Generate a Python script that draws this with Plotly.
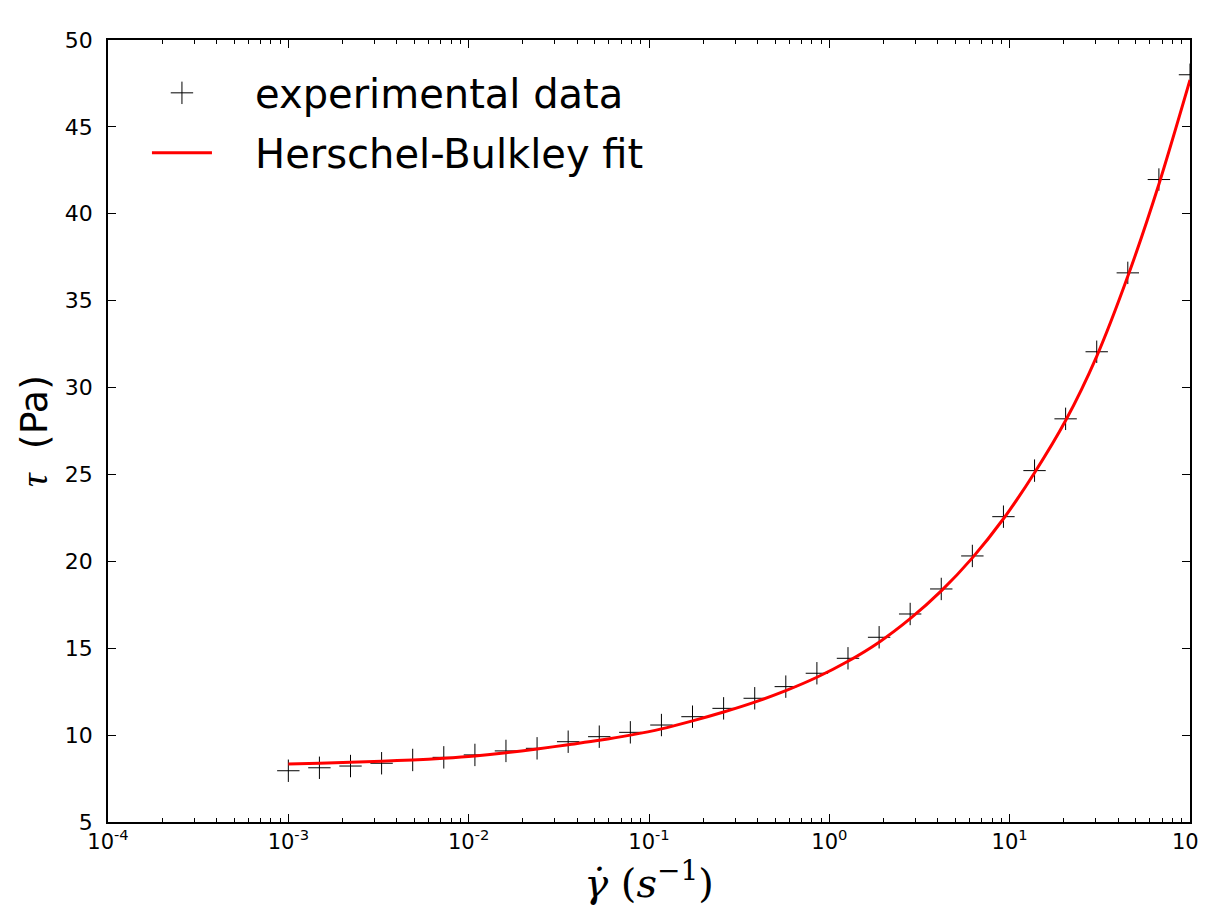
import plotly.graph_objects as go

# shear rate (1/s)
shear_rate = [0.001, 0.001487, 0.002212, 0.00329, 0.004894, 0.007279, 0.01083, 0.0161,
              0.02395, 0.03562, 0.05298, 0.0788, 0.1172, 0.1743, 0.2593, 0.3857,
              0.5736, 0.8532, 1.269, 1.888, 2.807, 4.175, 6.21, 9.237, 13.74,
              20.43, 30.39, 45.2, 67.23, 100.0]
# measured shear stress (Pa)
stress_exp = [7.95, 8.12, 8.22, 8.38, 8.57, 8.72, 8.86, 9.09, 9.24, 9.62,
              9.91, 10.16, 10.58, 11.06, 11.54, 12.12, 12.79, 13.56, 14.42, 15.63,
              16.97, 18.41, 20.31, 22.57, 25.22, 28.2, 32.06, 36.6, 41.97, 48.0]
# Herschel-Bulkley fit curve at the same shear rates
stress_fit = [8.34, 8.38, 8.44, 8.50, 8.57, 8.67, 8.80, 8.98, 9.20, 9.45,
              9.70, 10.00, 10.36, 10.82, 11.33, 11.90, 12.56, 13.33, 14.25, 15.35,
              16.7, 18.3, 20.2, 22.45, 25.1, 28.1, 31.8, 36.4, 41.7, 47.7]

x_tickvals = [1e-4, 1e-3, 1e-2, 1e-1, 1e0, 1e1, 1e2]
x_ticktext = ["10<sup>-4</sup>", "10<sup>-3</sup>", "10<sup>-2</sup>", "10<sup>-1</sup>",
              "10<sup>0</sup>", "10<sup>1</sup>", "10<sup>2</sup>"]
y_tickvals = [5, 10, 15, 20, 25, 30, 35, 40, 45, 50]

NB = "\u00a0"

fig = go.Figure()
fig.add_trace(go.Scatter(
    x=shear_rate, y=stress_exp, mode="markers", name=NB * 3 + "experimental data",
    legendgroup="exp",
    marker=dict(symbol="cross-thin-open", size=16, color="black",
                line=dict(color="black", width=1)),
))
fig.add_trace(go.Scatter(
    x=shear_rate, y=stress_fit, mode="lines", name=NB * 3 + "Herschel-Bulkley fit",
    legendgroup="fit",
    line=dict(color="red", width=3, shape="spline", smoothing=0.8),
))

axis_common = dict(
    showline=True, linecolor="black", linewidth=1.5, mirror="allticks",
    ticks="inside", tickcolor="black", tickwidth=1, ticklen=8,
    showgrid=False, zeroline=False,
)

fig.update_layout(
    width=1198, height=914,
    paper_bgcolor="white", plot_bgcolor="white",
    margin=dict(l=100, r=16, t=32, b=100),
    showlegend=True,
    legend=dict(
        x=0.036, y=0.974, xanchor="left", yanchor="top",
        bgcolor="rgba(0,0,0,0)", borderwidth=0,
        font=dict(family="DejaVu Sans", size=40, color="black"),
        itemwidth=60, tracegroupgap=5,
    ),
    xaxis=dict(
        type="log", range=[-4, 2],
        tickmode="array", tickvals=x_tickvals, ticktext=x_ticktext,
        tickfont=dict(family="DejaVu Sans", size=21, color="black"),
        ticklabeloverflow="allow",
        minor=dict(ticks="inside", ticklen=4, tickcolor="black", dtick="D1", showgrid=False),
        title=dict(text="<i>γ̇</i> (<i>s</i><sup>−1</sup>)",
                   font=dict(family="DejaVu Serif", size=40, color="black"),
                   standoff=12),
        automargin=False,
        **axis_common,
    ),
    yaxis=dict(
        range=[5, 50], tickmode="array", tickvals=y_tickvals,
        tickfont=dict(family="DejaVu Sans", size=22, color="black"),
        ticklabelstandoff=9,
        title=dict(text="<span style=\"font-family:'Liberation Serif'\"><i>τ</i></span>  (Pa)",
                   font=dict(family="DejaVu Sans", size=38, color="black"),
                   standoff=6),
        automargin=False,
        **axis_common,
    ),
)

fig.write_html("out.html")
